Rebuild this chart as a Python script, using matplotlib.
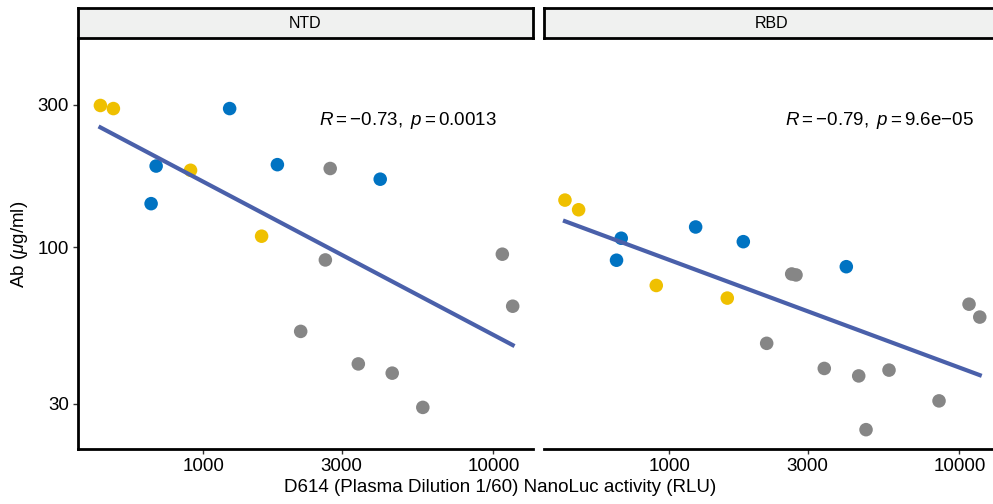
import numpy as np
import matplotlib.pyplot as plt
from matplotlib.ticker import FixedLocator, FixedFormatter, NullLocator

plt.rcParams['font.family'] = ['Liberation Sans', 'DejaVu Sans']
plt.rcParams['mathtext.fontset'] = 'custom'
plt.rcParams['mathtext.rm'] = 'Liberation Sans'
plt.rcParams['mathtext.it'] = 'Liberation Sans:italic'

# NTD panel data (RLU, Ab ug/ml)
ntd_yellow_x = [442, 490, 904, 1589]
ntd_yellow_y = [298, 291, 181, 109]
ntd_blue_x = [1233, 688, 661, 1801, 4074]
ntd_blue_y = [291, 187, 140, 189, 169]
ntd_gray_x = [2739, 2636, 2167, 3424, 4481, 5713, 10740, 11660]
ntd_gray_y = [183.5, 90.8, 52.4, 40.8, 38.0, 29.2, 94.9, 63.6]

# RBD panel data
rbd_yellow_x = [437, 487, 902, 1585]
rbd_yellow_y = [143.9, 133.6, 74.6, 67.7]
rbd_blue_x = [683, 658, 1233, 1800, 4077]
rbd_blue_y = [107.3, 90.6, 117.0, 104.5, 86.2]
rbd_gray_x = [2643, 2735, 2167, 3423, 4499, 5722, 8511, 4768, 10800, 11760]
rbd_gray_y = [81.5, 80.9, 47.8, 39.4, 37.2, 38.9, 30.7, 24.6, 64.6, 58.5]

panel_names = ["NTD", "RBD"]
cor_labels = [r"$R = -0.73,\ p = 0.0013$",
              r"$R = -0.79,\ p = 9.6\mathrm{e}{-}05$"]

x_ticks = [1000, 3000, 10000]
y_ticks = [30, 100, 300]

c_yellow = "#EFC000"
c_blue = "#0073C2"
c_gray = "#868686"
c_line = "#4A60AA"

W, H = 993, 504
fig = plt.figure(figsize=(W / 100, H / 100), dpi=100)

panels = [
    (ntd_yellow_x, ntd_yellow_y, ntd_blue_x, ntd_blue_y, ntd_gray_x, ntd_gray_y),
    (rbd_yellow_x, rbd_yellow_y, rbd_blue_x, rbd_blue_y, rbd_gray_x, rbd_gray_y),
]
lefts = [78, 544]

for i, (yx, yy, bx, by, gx, gy) in enumerate(panels):
    ax = fig.add_axes([lefts[i] / W, 1 - 449 / H, 455 / W, 410 / H])
    ax.set_xscale('log')
    ax.set_yscale('log')

    # regression line in log-log space
    all_x = np.array(yx + bx + gx, dtype=float)
    all_y = np.array(yy + by + gy, dtype=float)
    k, b = np.polyfit(np.log10(all_x), np.log10(all_y), 1)
    xs = np.linspace(np.log10(all_x.min()), np.log10(all_x.max()), 50)
    ax.plot(10 ** xs, 10 ** (k * xs + b), color=c_line, lw=3, zorder=3)

    ax.scatter(gx, gy, s=95, color=c_gray, edgecolors='none', zorder=2)
    ax.scatter(yx, yy, s=95, color=c_yellow, edgecolors='none', zorder=2)
    ax.scatter(bx, by, s=95, color=c_blue, edgecolors='none', zorder=2)

    ax.set_xlim(370, 13700)
    ax.set_ylim(21.2, 497)

    ax.xaxis.set_major_locator(FixedLocator(x_ticks))
    ax.xaxis.set_major_formatter(FixedFormatter([str(t) for t in x_ticks]))
    ax.xaxis.set_minor_locator(NullLocator())
    ax.yaxis.set_major_locator(FixedLocator(y_ticks))
    ax.yaxis.set_major_formatter(FixedFormatter([str(t) for t in y_ticks]))
    ax.yaxis.set_minor_locator(NullLocator())
    ax.tick_params(labelsize=13.5, length=3.5, width=1, color='#333333', pad=3)

    for s in ['top', 'right']:
        ax.spines[s].set_visible(False)
    ax.spines['bottom'].set_linewidth(2)
    ax.spines['left'].set_linewidth(2)
    if i == 1:
        ax.spines['left'].set_visible(False)
        ax.tick_params(axis='y', left=False, labelleft=False)

    ax.text(0.53, 0.802, cor_labels[i], transform=ax.transAxes,
            fontsize=13.5, va='center', ha='left')

    # facet strip (the right one runs past the image edge)
    strip_w = 455 if i == 0 else 470
    sax = fig.add_axes([lefts[i] / W, 1 - 38 / H, strip_w / W, 30 / H])
    sax.set_facecolor('#F0F1F0')
    sax.set_xticks([])
    sax.set_yticks([])
    for s in sax.spines.values():
        s.set_linewidth(2)
    sax.text(227.5 / strip_w, 0.5, panel_names[i], transform=sax.transAxes,
             ha='center', va='center', fontsize=11.5)

fig.text(500 / W, 1 - 488 / H, "D614 (Plasma Dilution 1/60) NanoLuc activity (RLU)",
         ha='center', va='center', fontsize=13.5)
fig.text(20 / W, 1 - 244 / H, r"Ab ($\mu$g/ml)", rotation=90,
         ha='center', va='center', fontsize=13.5)

plt.savefig("out.png", dpi=100)
